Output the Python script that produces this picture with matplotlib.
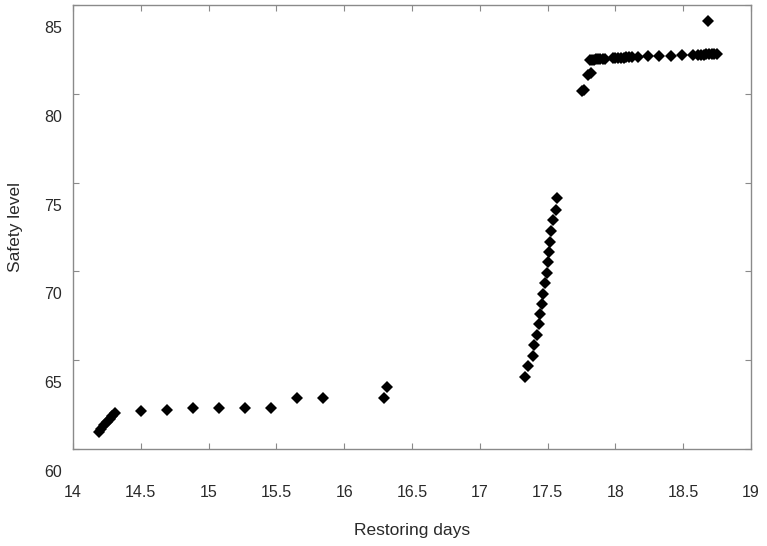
import matplotlib
matplotlib.use("Agg")
import matplotlib.pyplot as plt
from matplotlib.transforms import ScaledTranslation

# ---- data ----
restoring_days = [
    # initial rise
    14.19, 14.21, 14.23, 14.25, 14.27, 14.29, 14.31,
    # low plateau
    14.50, 14.69, 14.885, 15.08, 15.27, 15.46, 15.655, 15.845, 16.294, 16.313,
    # steep segment
    17.333, 17.358, 17.390, 17.402, 17.424, 17.434, 17.444, 17.456, 17.468,
    17.481, 17.493, 17.505, 17.513, 17.518, 17.525, 17.542, 17.562, 17.571,
    # jump
    17.75, 17.77, 17.80, 17.82,
    # high plateau
    17.81, 17.83, 17.845, 17.86, 17.875, 17.89, 17.905, 17.92,
    17.98, 18.00, 18.02, 18.04, 18.06, 18.08, 18.10, 18.12,
    18.17, 18.24, 18.32, 18.41, 18.49, 18.57,
    18.61, 18.63, 18.65, 18.67, 18.69, 18.71, 18.73, 18.75,
    # outlier
    18.686,
]
safety_level = [
    60.97, 61.15, 61.33, 61.50, 61.67, 61.84, 62.00,
    62.15, 62.20, 62.31, 62.31, 62.31, 62.33, 62.87, 62.87, 62.87, 63.49,
    64.04, 64.67, 65.25, 65.86, 66.42, 67.02, 67.58, 68.16, 68.75,
    69.33, 69.93, 70.51, 71.11, 71.67, 72.27, 72.87, 73.46, 74.12,
    80.17, 80.20, 81.05, 81.18,
    81.92, 81.93, 81.93, 81.94, 81.95, 81.95, 81.96, 81.97,
    82.00, 82.01, 82.02, 82.03, 82.04, 82.05, 82.06, 82.07,
    82.09, 82.11, 82.13, 82.15, 82.17, 82.19,
    82.20, 82.21, 82.21, 82.22, 82.22, 82.23, 82.23, 82.24,
    84.12,
]
x_ticks = [14, 14.5, 15, 15.5, 16, 16.5, 17, 17.5, 18, 18.5, 19]
x_tick_labels = ["14", "14.5", "15", "15.5", "16", "16.5", "17", "17.5", "18", "18.5", "19"]
y_ticks = [60, 65, 70, 75, 80, 85]
y_tick_labels = ["60", "65", "70", "75", "80", "85"]

plt.rcParams["font.family"] = ["Liberation Sans", "DejaVu Sans"]
text_color = "#2a2a2a"
spine_color = "#8a8a8a"

fig = plt.figure(figsize=(7.67, 5.46), dpi=100)
ax = fig.add_axes([73 / 767, 97 / 546, 678 / 767, 444 / 546])

ax.plot(restoring_days, safety_level, linestyle="none", marker="D",
        markersize=6.4, color="black", markeredgewidth=0)

ax.set_xlim(14, 19)
ax.set_ylim(60, 85)
ax.set_xticks(x_ticks)
ax.set_xticklabels(x_tick_labels)
ax.set_yticks(y_ticks)
ax.set_yticklabels(y_tick_labels)

for s in ax.spines.values():
    s.set_color(spine_color)
    s.set_linewidth(1.0)

ax.tick_params(axis="both", which="major", direction="in", length=4.5, width=0.8,
               color=spine_color, labelcolor=text_color, labelsize=11.5,
               top=True, right=True)
ax.tick_params(axis="x", pad=26)
ax.tick_params(axis="y", pad=8)

# y tick labels sit lower than their ticks in the reference
offset = ScaledTranslation(0, -22 / 100, fig.dpi_scale_trans)
for lab in ax.get_yticklabels():
    lab.set_transform(lab.get_transform() + offset)

ax.set_xlabel("Restoring days", fontsize=12.5, color=text_color)
ax.set_ylabel("Safety level", fontsize=12.5, color=text_color)
ax.xaxis.set_label_coords(0.5, (449 - 530) / 444)
ax.xaxis.label.set_va("center")
ax.yaxis.set_label_coords((16 - 73) / 678, 0.5)
ax.yaxis.label.set_va("center")

fig.savefig("out.png", dpi=100)
